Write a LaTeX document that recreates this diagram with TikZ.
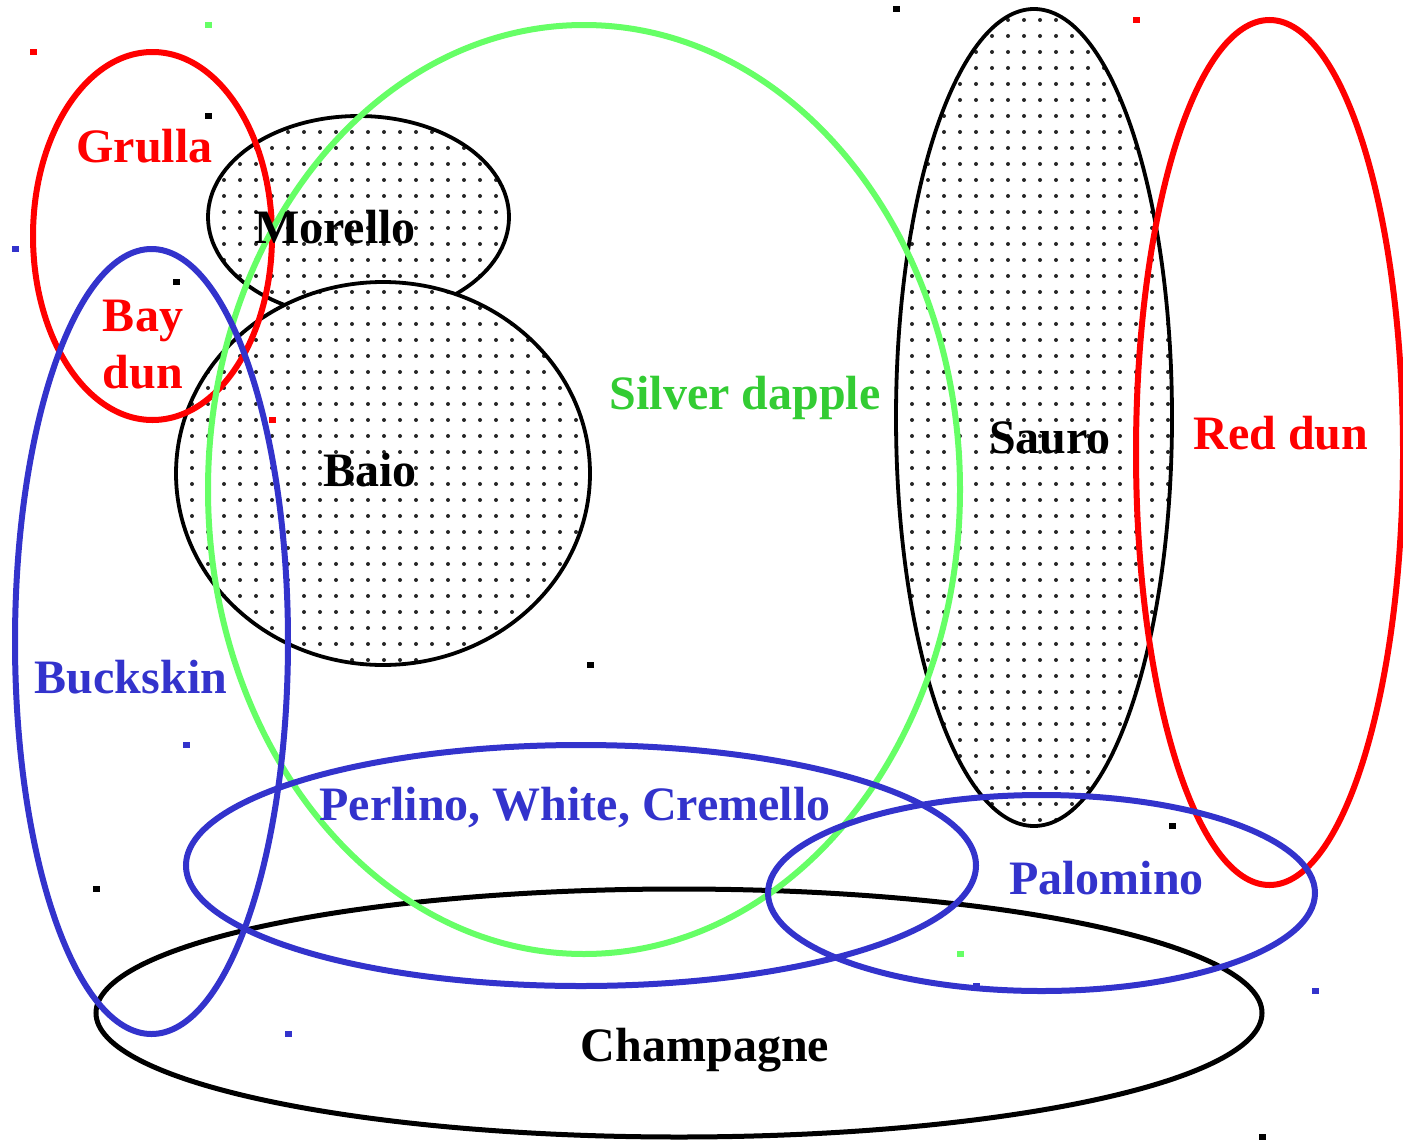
\documentclass[tikz,border=0pt]{standalone}
\usepackage{fontspec}
\setmainfont{Liberation Serif}
\usetikzlibrary{patterns.meta}

\definecolor{cred}{HTML}{FF0000}
\definecolor{cgreen}{HTML}{66FF66}
\definecolor{cgreentext}{HTML}{33CC33}
\definecolor{cblue}{HTML}{3333CC}

\tikzset{
	redring/.style={draw=cred, line width=3pt},
	greenring/.style={draw=cgreen, line width=3pt},
	bluering/.style={draw=cblue, line width=3pt},
	blackring/.style={draw=black, line width=2.5pt},
	dotted area/.style={draw=black, line width=1.9pt, preaction={fill=white},
		pattern={Dots[distance=8pt, radius=1pt]}, pattern color=black!85},
	lbl/.style={anchor=base, inner sep=0pt, align=center, font=\bfseries\fontsize{24}{28.5}\selectfont},
	corner/.style={inner sep=0pt, minimum width=3.5pt, minimum height=3pt, fill}
}

\begin{document}
\begin{tikzpicture}[x=0.5pt, y=-0.5pt]
				\useasboundingbox (0,0) rectangle (1403,1140);
				% Filled coat areas
				\draw[dotted area] (358.5,217) ellipse [x radius=150.5, y radius=101];
				\draw[dotted area] (383,473.5) ellipse [x radius=207, y radius=191.5];
				\draw[dotted area] (1034,417.5) ellipse [x radius=138, y radius=408.5];
				
				% Dilution rings
				\draw[blackring] (679,1013) ellipse [x radius=583, y radius=124];
				\draw[redring] (152.5,236) ellipse [x radius=119.5, y radius=184];
				\draw[redring] (1269.5,452.5) ellipse [x radius=133.5, y radius=432.5];
				\draw[greenring] (584,489.5) ellipse [x radius=376, y radius=464.5];
				\draw[bluering] (151.5,641.5) ellipse [x radius=136.5, y radius=392.5];
				\draw[bluering] (581,865.5) ellipse [x radius=395, y radius=120.5];
				\draw[bluering] (1041.5,893) ellipse [x radius=273.5, y radius=98];
				
				% Corner marks left by the drawing program
				\foreach \px/\py/\pc in {33/52/cred, 272/420/cred, 208/25/cgreen, 960/954/cgreen,
					896/9/black, 1172/826/black, 1136/20/cred, 208/116/black, 15/249/cblue,
					288/1034/cblue, 176/282/black, 590/665/black, 186/745/cblue, 976/986/cblue,
					96/889/black, 1262/1137/black, 1315/991/cblue}
					\node[corner, fill=\pc] at (\px,\py) {};
				
				% Labels
				\node[lbl, text=cred] (grulla) at (144.5,162) {Grulla};
				\node[lbl] (morello) at (335,243) {Morello};
				\node[lbl, text=cred] (baydun) at (143,388) {Bay\\dun};
				\node[lbl] (baio) at (370,486) {Baio};
				\node[lbl, text=cgreentext] (silver) at (745,409) {Silver dapple};
				\node[lbl] (sauro) at (1050,453) {Sauro};
				\node[lbl, text=cred] (reddun) at (1281,449) {Red dun};
				\node[lbl, text=cblue] (buckskin) at (131,693) {Buckskin};
				\node[lbl, text=cblue] (perlino) at (575,820) {Perlino, White, Cremello};
				\node[lbl, text=cblue] (palomino) at (1106.5,894) {Palomino};
				\node[lbl] (champagne) at (705,1061) {Champagne};
			\end{tikzpicture}
\end{document}
